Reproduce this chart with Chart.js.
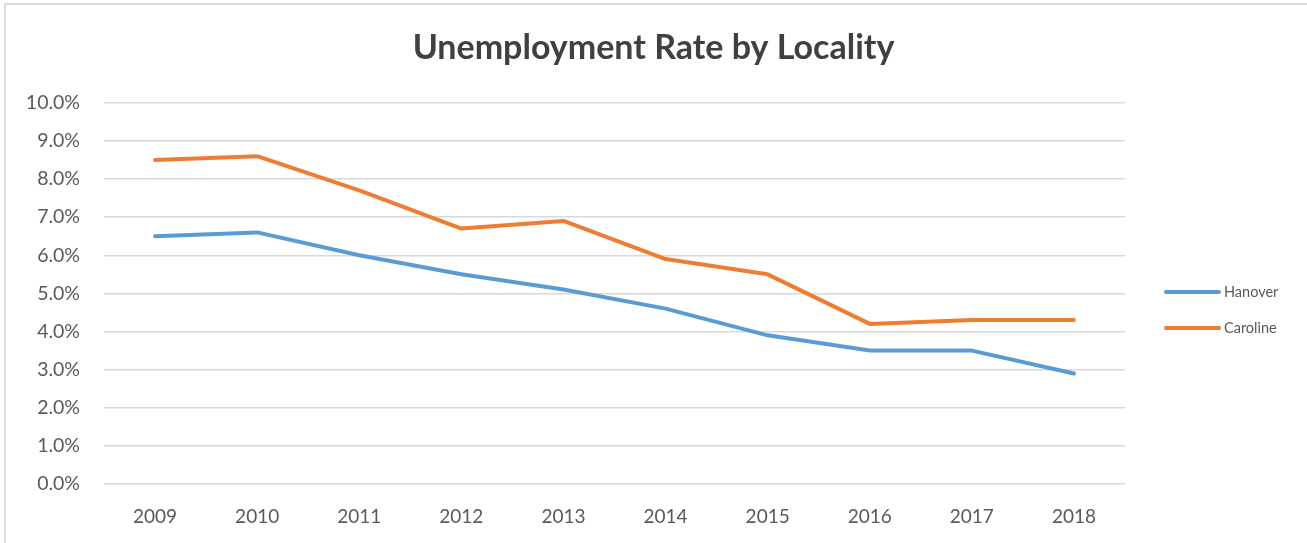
<!DOCTYPE html>
<html>
<head>
<meta charset="utf-8">
<title>Unemployment Rate by Locality</title>
<script src="https://cdn.jsdelivr.net/npm/chart.js@4.4.1/dist/chart.umd.min.js"></script>
<style>
  html, body { margin: 0; padding: 0; background: #fff; }
  #wrap { position: relative; width: 1307px; height: 543px; overflow: hidden; }
  #frame {
    position: absolute; left: 4px; top: 3px; right: 0; bottom: -2px;
    border-top: 2px solid #dcdcdc; border-left: 2px solid #dcdcdc;
  }
  canvas { position: absolute; left: 0; top: 0; }
</style>
</head>
<body>
<div id="wrap">
  <div id="frame"></div>
  <canvas id="rateChart" width="1307" height="543"></canvas>
</div>
<script>
const years = ['2009', '2010', '2011', '2012', '2013', '2014', '2015', '2016', '2017', '2018'];
const hanover = [6.5, 6.6, 6.0, 5.5, 5.1, 4.6, 3.9, 3.5, 3.5, 2.9];
const caroline = [8.5, 8.6, 7.7, 6.7, 6.9, 5.9, 5.5, 4.2, 4.3, 4.3];

const FONT = 'Lato, "Liberation Sans", sans-serif';
const TEXT = '#595959';

// legend on the right: short thick line then the series name
const sideLegend = {
  id: 'sideLegend',
  afterDraw(chart) {
    const ctx = chart.ctx;
    const x0 = 1166, x1 = 1219;
    chart.data.datasets.forEach((ds, i) => {
      const y = 292 + i * 36;
      ctx.save();
      ctx.strokeStyle = ds.borderColor;
      ctx.lineWidth = 4;
      ctx.lineCap = 'round';
      ctx.beginPath();
      ctx.moveTo(x0, y);
      ctx.lineTo(x1, y);
      ctx.stroke();
      ctx.fillStyle = TEXT;
      ctx.font = '14.5px ' + FONT;
      ctx.textBaseline = 'middle';
      ctx.fillText(ds.label, x1 + 5, y);
      ctx.restore();
    });
  }
};

new Chart(document.getElementById('rateChart'), {
  type: 'line',
  data: {
    labels: years,
    datasets: [
      { label: 'Hanover', data: hanover, borderColor: '#5B9BD5' },
      { label: 'Caroline', data: caroline, borderColor: '#ED7D31' }
    ]
  },
  options: {
    responsive: false,
    animation: false,
    layout: { padding: 0 },
    elements: {
      line: { borderWidth: 4, tension: 0, borderJoinStyle: 'round', borderCapStyle: 'round', fill: false },
      point: { radius: 0, hoverRadius: 0 }
    },
    plugins: {
      legend: { display: false },
      tooltip: { enabled: false },
      title: {
        display: true,
        text: 'Unemployment Rate by Locality',
        color: '#404040',
        font: { family: FONT, size: 34, weight: 'bold', lineHeight: 1.2 },
        padding: { top: 28, bottom: 34 }
      }
    },
    scales: {
      x: {
        offset: true,
        grid: { display: false },
        border: { display: false },
        ticks: { color: TEXT, font: { family: FONT, size: 19 }, padding: 13, maxRotation: 0 },
        afterFit(scale) { scale.height = 59; }
      },
      y: {
        min: 0,
        max: 10,
        grid: { color: '#d9d9d9', lineWidth: 1.5, drawTicks: false },
        border: { display: false },
        ticks: {
          stepSize: 1,
          color: TEXT,
          font: { family: FONT, size: 19.5 },
          padding: 24,
          callback: v => v.toFixed(1) + '%'
        },
        afterFit(scale) { scale.width = 104; }
      },
      // empty right-hand axis that keeps room for the legend
      side: {
        position: 'right',
        grid: { display: false },
        border: { display: false },
        ticks: { display: false },
        afterFit(scale) { scale.width = 182; }
      }
    }
  },
  plugins: [sideLegend]
});
</script>
</body>
</html>
